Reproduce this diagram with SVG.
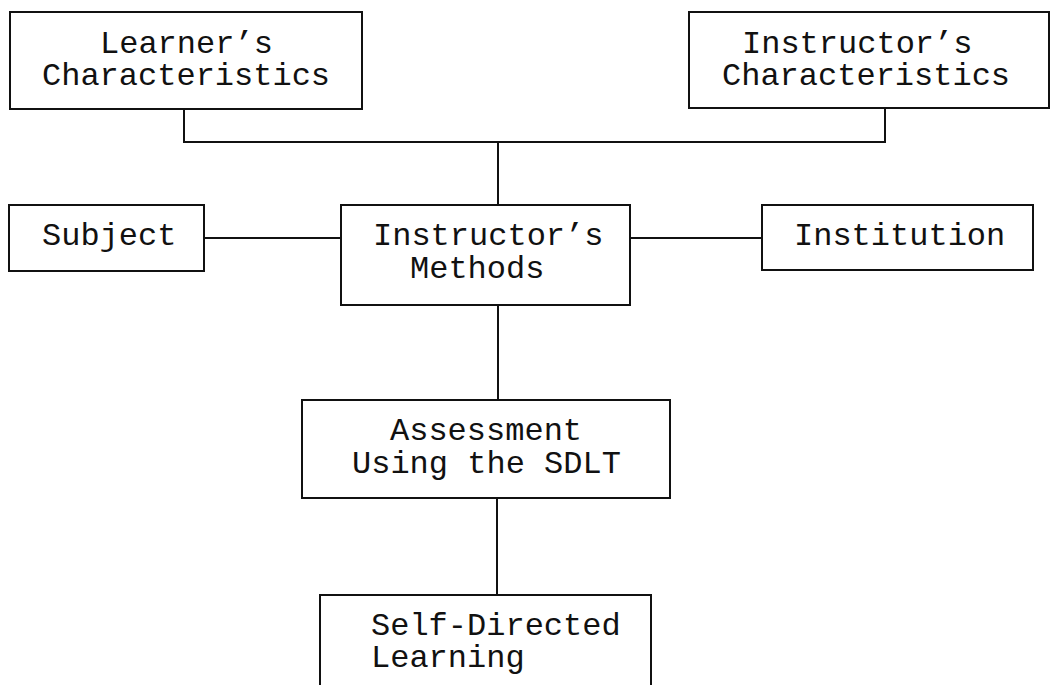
<svg xmlns="http://www.w3.org/2000/svg" width="1051" height="685" viewBox="0 0 1051 685">
<style>
.box{fill:#fff;stroke:#111;stroke-width:2}
.t{font-family:"Liberation Mono","Courier New",monospace;font-size:32px;fill:#111}
.c{fill:none;stroke:#111;stroke-width:2}
</style>
<rect width="1051" height="685" fill="#fff"/>
<g id="connectors">
<polyline class="c" points="184,109 184,142 885,142 885,108"/>
<line class="c" x1="498" y1="142" x2="498" y2="205"/>
<line class="c" x1="204" y1="238" x2="341" y2="238"/>
<line class="c" x1="630" y1="238" x2="762" y2="238"/>
<line class="c" x1="498" y1="305" x2="498" y2="400"/>
<line class="c" x1="497" y1="498" x2="497" y2="595"/>
</g>
<g id="learner">
<rect class="box" x="10" y="12" width="352" height="97"/>
<text class="t" x="100" y="53">Learner’s</text>
<text class="t" x="42" y="85">Characteristics</text>
</g>
<g id="instructor-char">
<rect class="box" x="689" y="12" width="360" height="96"/>
<text class="t" x="742" y="53">Instructor’s</text>
<text class="t" x="722" y="85">Characteristics</text>
</g>
<g id="subject">
<rect class="box" x="9" y="205" width="195" height="66"/>
<text class="t" x="42" y="245">Subject</text>
</g>
<g id="methods">
<rect class="box" x="341" y="205" width="289" height="100"/>
<text class="t" x="373" y="245">Instructor’s</text>
<text class="t" x="410" y="278">Methods</text>
</g>
<g id="institution">
<rect class="box" x="762" y="205" width="271" height="65"/>
<text class="t" x="794" y="245">Institution</text>
</g>
<g id="assessment">
<rect class="box" x="302" y="400" width="368" height="98"/>
<text class="t" x="390" y="440">Assessment</text>
<text class="t" x="352" y="473">Using the SDLT</text>
</g>
<g id="sdl">
<rect class="box" x="320" y="595" width="331" height="100"/>
<text class="t" x="371" y="635">Self-Directed</text>
<text class="t" x="371" y="667">Learning</text>
</g>
</svg>
